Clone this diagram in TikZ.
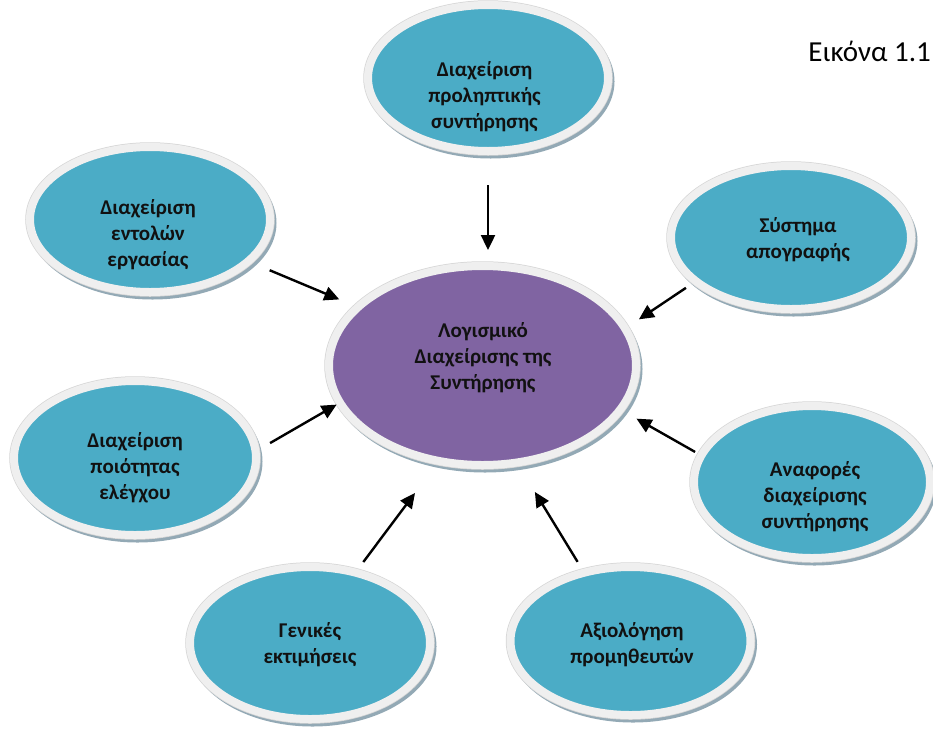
\documentclass[tikz,border=0pt]{standalone}
\usepackage{fontspec}
\setmainfont{Carlito}[BoldFont={Carlito Bold}]
\usetikzlibrary{shapes.geometric,arrows.meta}

\definecolor{tealfill}{HTML}{4BACC6}
\definecolor{purplefill}{HTML}{8064A2}
\definecolor{rimgray}{HTML}{EFEFEF}
\definecolor{rimedge}{HTML}{D6D6D6}
\definecolor{shadowgray}{HTML}{93A9B5}
\definecolor{inkblack}{HTML}{111111}

\tikzset{
  bubble/.style={ellipse, draw=rimgray, line width=8pt, fill=tealfill,
    inner sep=0pt,
    preaction={draw=shadowgray, fill=shadowgray, line width=8pt,
      transform canvas={shift={(2.5pt,-3.5pt)}}},
    preaction={draw=rimedge, line width=9.5pt}},
  hub/.style={bubble, fill=purplefill},
  caption/.style={font=\bfseries\fontsize{21}{26}\selectfont, text=inkblack,
    align=center, inner sep=0pt},
  arr/.style={draw=black, line width=2.4pt,
    -{Triangle[length=15pt,width=14pt]}},
}

\begin{document}
\begin{tikzpicture}[x=1pt,y=-1pt]
\useasboundingbox (0,0) rectangle (933,731);

% central hub and the seven modules around it
\node[hub,    minimum width=307, minimum height=199] (ctr) at (482.5,365.5) {};
\node[bubble, minimum width=240, minimum height=146] (tp)  at (488,78) {};
\node[bubble, minimum width=240, minimum height=145] (tl)  at (150,219.5) {};
\node[bubble, minimum width=240, minimum height=143] (ru)  at (791,237.5) {};
\node[bubble, minimum width=242, minimum height=154] (lm)  at (135,458) {};
\node[bubble, minimum width=236, minimum height=152] (rl)  at (812,482) {};
\node[bubble, minimum width=240, minimum height=152] (bl)  at (310,643) {};
\node[bubble, minimum width=240, minimum height=148] (br)  at (630.5,641) {};

% labels
\node[caption] (ctrtxt) at (483,358) {Λογισμικό\\Διαχείρισης της\\Συντήρησης};
\node[caption] (tptxt)  at (484.5,97) {Διαχείριση\\προληπτικής\\συντήρησης};
\node[caption] (tltxt)  at (148,235) {Διαχείριση\\εντολών\\εργασίας};
\node[caption] (rutxt)  at (798,239.5) {Σύστημα\\απογραφής};
\node[caption] (lmtxt)  at (135,468) {Διαχείριση\\ποιότητας\\ελέγχου};
\node[caption] (rltxt)  at (815,497) {Αναφορές\\διαχείρισης\\συντήρησης};
\node[caption] (bltxt)  at (310,645) {Γενικές\\εκτιμήσεις};
\node[caption] (brtxt)  at (632,644.5) {Αξιολόγηση\\προμηθευτών};

\node[font=\fontsize{29}{34}\selectfont, anchor=base east, inner sep=0pt]
  (fig) at (931,61.5) {Εικόνα 1.1};

% arrows into the hub
\draw[arr, shorten <=30pt, shorten >=12pt] (tp.south) -- (tp.south |- ctr.north);
\draw[arr, shorten <=19pt, shorten >=16pt] (tl.337.4) -- (ctr.155.6);
\draw[arr, shorten <=12.5pt, shorten >=0pt] (lm.4.6) -- (ctr.195.2);
\draw[arr, shorten <=8pt, shorten >=12.7pt] (ru.205.2) -- (ctr.15.7);
\draw[arr, shorten <=3.3pt, shorten >=14.7pt] (rl.166.1) -- (ctr.342.4);
\draw[arr, shorten <=9pt, shorten >=35.6pt] (bl.57.2) -- (ctr.245.1);
\draw[arr, shorten <=8.6pt, shorten >=30.2pt] (br.124.4) -- (ctr.290.2);
\end{tikzpicture}
\end{document}
